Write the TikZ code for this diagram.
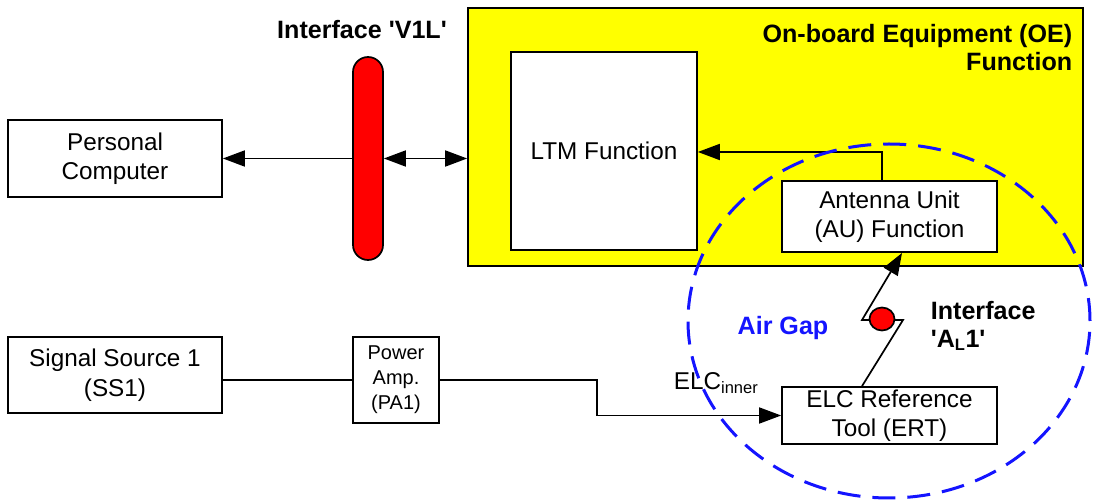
\documentclass[tikz,border=0pt]{standalone}
\usepackage{fontspec}
\setmainfont{Liberation Sans}
\usetikzlibrary{arrows.meta,shapes.geometric,calc}
\definecolor{oeyellow}{RGB}{255,255,0}
\definecolor{gapblue}{RGB}{20,20,255}
\begin{document}
\begin{tikzpicture}[x=1pt,y=-1pt,
  line width=1.7pt,
  every node/.style={inner sep=0pt,align=center},
  txt/.style={font=\fontsize{24.3}{29.5}\selectfont},
  btxt/.style={font=\fontsize{25.1}{28}\selectfont\bfseries},
  box/.style={draw=black,fill=white,line width=1.7pt,txt},
  tip/.style={-{Triangle[length=22pt,width=16pt]}},
  tips/.style={{Triangle[length=22pt,width=16pt]}-{Triangle[length=22pt,width=16pt]}}
]
\useasboundingbox (0,0) rectangle (1093,502);
% On-board equipment
\node[draw=black,fill=oeyellow,line width=1.7pt,minimum width=615pt,minimum height=258pt] (oe) at (775.5,137) {};
\node[btxt,anchor=north east,align=right] (oet) at (1073,23) {On-board Equipment (OE)\\Function};
\node[box,minimum width=186pt,minimum height=198pt] (ltm) at (604,151) {LTM Function};
\node[box,minimum width=215pt,minimum height=71pt] (au) at (889.5,216.5) {Antenna Unit\\(AU) Function};
% interface V1L
\node[draw=black,fill=red,line width=1.7pt,rounded corners=15pt,minimum width=30pt,minimum height=203pt] (v1l) at (368,158.5) {};
\node[btxt] (v1lt) at (362,30) {Interface \textquotesingle V1L\textquotesingle};
% personal computer
\node[box,minimum width=214pt,minimum height=77pt] (pc) at (115,158.5) {Personal\\Computer};
% signal chain
\node[box,minimum width=214pt,minimum height=76pt] (ss) at (115,375) {Signal Source 1\\(SS1)};
\node[box,minimum width=86pt,minimum height=86pt,font=\fontsize{20}{25}\selectfont] (pa) at (396,380) {Power\\Amp.\\(PA1)};
\node[box,minimum width=215pt,minimum height=57pt] (ert) at (889.5,415.5) {ELC Reference\\Tool (ERT)};
% connectors
\coordinate (k) at (882,152);
\draw[tip] (v1l.west |- pc.east) -- (pc.east);
\draw[tips] (v1l.east |- pc.east) -- (oe.west |- pc.east);
\draw[tip] (au.north -| k) -- (k) -- (ltm.east |- k);
\coordinate (b1) at (597,380);
\draw (ss.east |- b1) -- (pa.west |- b1);
\draw[tip] (pa.east |- b1) -- (b1) |- (ert.west);
\coordinate (z0) at (862,387);
\coordinate (z1) at (903,320);
\coordinate (z2) at (862,320);
\coordinate (z3) at (902,253);
\draw[tip] (ert.north -| z0) -- (z1) -- (z2) -- (z3);
\node[draw=black,fill=red,line width=1.7pt,ellipse,minimum width=25pt,minimum height=23pt] (al1) at (882,319) {};
% labels
\node[txt,anchor=west] (elc) at (673,383) {ELC\textsubscript{\fontsize{16.5}{16}\selectfont inner}};
\node[btxt,anchor=west,align=left] (al1t) at (930,326) {Interface\\\textquotesingle A\textsubscript{\fontsize{16.5}{16}\selectfont L}1\textquotesingle};
\node[btxt,text=gapblue] (gap) at (783,328) {Air Gap};
% air gap
\draw[gapblue,line width=3pt,dash pattern=on 23pt off 12pt] (889,321) ellipse [x radius=201pt,y radius=177pt];
\end{tikzpicture}
\end{document}
